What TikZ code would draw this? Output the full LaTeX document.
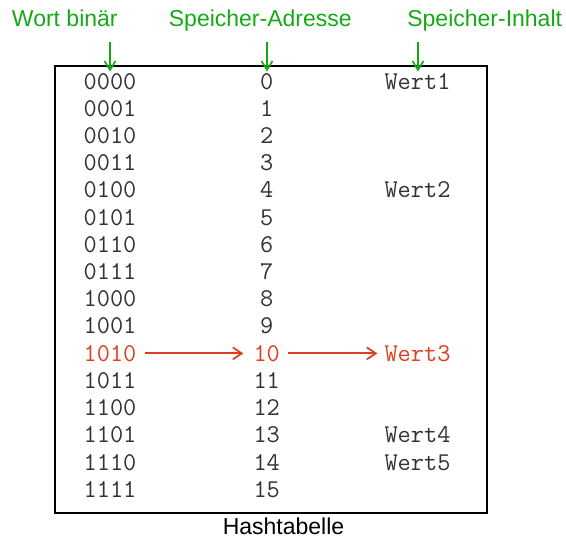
\documentclass[tikz,border=0pt]{standalone}
\usepackage{fontspec}
\setmainfont{Liberation Sans}
\usetikzlibrary{arrows.meta}
\definecolor{hdrgreen}{RGB}{20,170,20}
\definecolor{hitred}{RGB}{222,62,32}
\definecolor{celltext}{RGB}{50,50,50}
\begin{document}
\begin{tikzpicture}[x=1pt,y=-1pt,
  header/.style={anchor=base,inner sep=0pt,text=hdrgreen,font=\fontsize{23}{23}\selectfont},
  cell/.style={anchor=base,inner sep=0pt,text=celltext,font=\fontsize{25.6}{25.6}\selectfont\ttfamily},
  hitcell/.style={cell,text=hitred},
  pointer/.style={draw=hdrgreen,line width=1.8pt,-{Straight Barb[length=9pt,width=11pt,line width=1.6pt]}},
  lookup/.style={draw=hitred,line width=1.8pt,-{Straight Barb[length=9pt,width=12pt,line width=1.7pt]}},
  frame/.style={draw=black,line width=2pt,inner sep=0pt,anchor=north west,
    minimum width=431.5pt,minimum height=447pt}]
  \useasboundingbox (0,0) rectangle (566,539);

  % table frame
  \node[frame] (table) at (54.3,64.8) {};

  % column headings
  \node[header] (hword) at (64.8,26.7) {Wort binär};
  \node[header] (haddr) at (260.3,26.9) {Speicher-Adresse};
  \node[header] (hcont) at (484.7,26.9) {Speicher-Inhalt};

  % heading pointers
  \coordinate (pw1) at (110,42); \coordinate (pw2) at (110,71.5);
  \coordinate (pa1) at (267,42); \coordinate (pa2) at (267,71.5);
  \coordinate (pc1) at (418,42); \coordinate (pc2) at (418,71.5);
  \draw[pointer] (pw1) -- (pw2);
  \draw[pointer] (pa1) -- (pa2);
  \draw[pointer] (pc1) -- (pc2);

  % binary words and addresses
  \foreach \i/\bin in {0/0000,1/0001,2/0010,3/0011,4/0100,5/0101,6/0110,7/0111,
                       8/1000,9/1001,11/1011,12/1100,13/1101,14/1110,15/1111}{
    \node[cell] (b\i) at (110,89+27.22*\i) {\bin};
    \node[cell] (a\i) at (266.7,89+27.22*\i) {\i};
  }
  \node[hitcell] (b10) at (110,89+27.22*10) {1010};
  \node[hitcell] (a10) at (266.7,89+27.22*10) {10};

  % stored values
  \node[cell] (v0)  at (417.5,89+27.22*0)  {Wert1};
  \node[cell] (v4)  at (417.5,89+27.22*4)  {Wert2};
  \node[hitcell] (v10) at (417.5,89+27.22*10) {Wert3};
  \node[cell] (v13) at (417.5,89+27.22*13) {Wert4};
  \node[cell] (v14) at (417.5,89+27.22*14) {Wert5};

  % lookup of key 1010
  \draw[lookup] ([xshift=8pt]b10.east) -- ([xshift=-10pt]a10.west);
  \draw[lookup] ([xshift=8pt]a10.east) -- ([xshift=-7pt]v10.west);

  % caption
  \node[header,text=black] (caption) at (283.5,534.5) {Hashtabelle};
\end{tikzpicture}
\end{document}
